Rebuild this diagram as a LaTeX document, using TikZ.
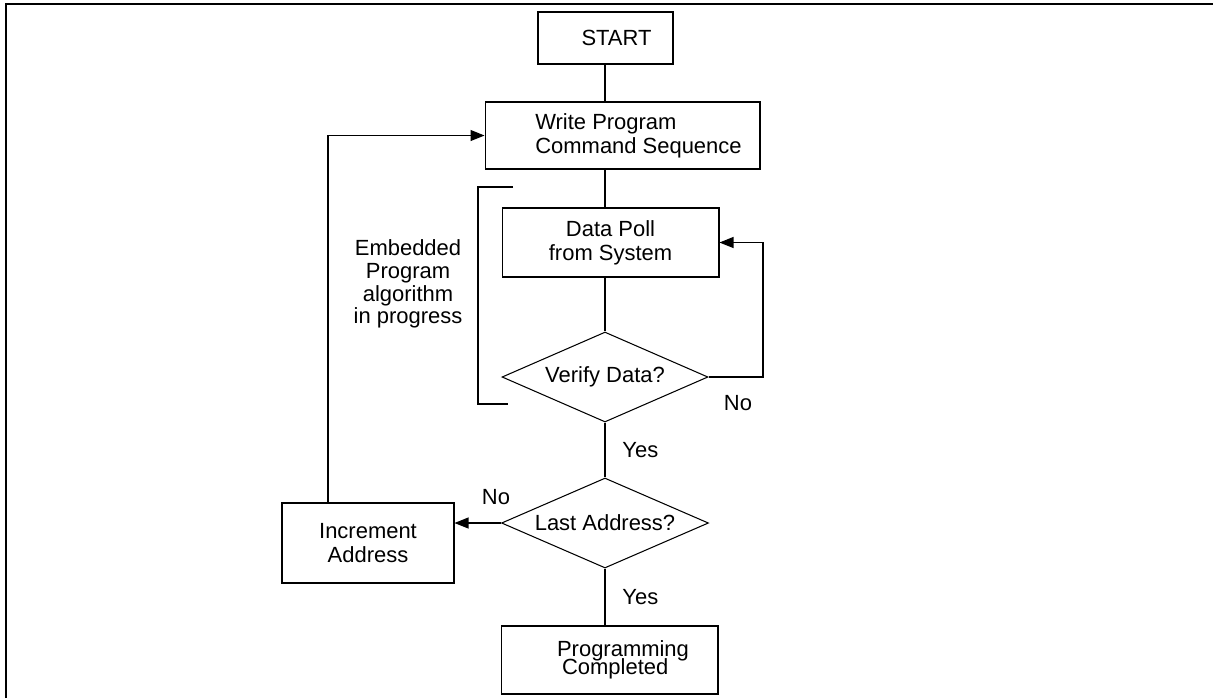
\documentclass[tikz,border=0pt]{standalone}
\usepackage{fontspec}
\setmainfont{Liberation Sans}
\usetikzlibrary{
  shapes.geometric,
  arrows.meta,
  positioning
}
\tikzset{
  >={Triangle[length=0.28cm, width=0.22cm]},
  box/.style={draw, rectangle, line width=0.6pt, inner sep=0pt},
  decision/.style={draw, diamond, aspect=2.3, inner sep=0pt, line width=0.6pt},
  flow/.style={line width=0.6pt}
}

\begin{document}
\begin{tikzpicture}[x=0.02cm, y=-0.02cm, font=\fontsize{12.5}{13.7}\selectfont]
    \useasboundingbox (0,0) rectangle (1213,698);
    \draw[line width=1.6pt] (6,698) -- (6,4) -- (1213,4);

    \node[box, minimum width=2.7cm, minimum height=1.04cm] (start) at (605.5,38) {\hspace*{0.44cm}START};
    \node[box, minimum width=5.5cm, minimum height=1.34cm, align=left] (write) at (622.5,135.5)
      {\hspace*{0.64cm}Write Program\\\hspace*{0.64cm}Command Sequence};
    \node[box, minimum width=4.34cm, minimum height=1.38cm, align=center] (poll) at (610.5,242.5) {Data Poll\\from System};
    \node[decision, minimum width=4.12cm, minimum height=1.8cm] (verify) at (605,377) {Verify Data?};
    \node[decision, minimum width=4.14cm, minimum height=1.8cm] (last) at (605,523) {Last Address?};
    \node[box, minimum width=3.44cm, minimum height=1.6cm, align=center] (incr) at (368,543) {Increment\\Address};
    \node[box, minimum width=4.34cm, minimum height=1.36cm, align=left, text height=0.66cm] (prog) at (609.5,660)
      {\hspace*{0.54cm}Programming\\[-0.13cm]\hspace*{0.64cm}Completed};

    % bracket round the polling loop
    \draw[flow] (513,187) -- (478,187) -- (478,404) -- (508,404);
    \node[align=center, font=\fontsize{12.5}{12.9}\selectfont] (embedded) at (408,284) {Embedded\\Program\\algorithm\\in progress};

    \draw[flow] (start.south -| verify.north) -- (write.north -| verify.north);
    \draw[flow] (write.south -| verify.north) -- (poll.north -| verify.north);
    \draw[flow] (poll.south -| verify.north) -- (verify.north);
    \draw[flow] (verify.south) -- node[right=0.22cm] (yes1) {Yes} (last.north);
    \draw[flow] (last.south) -- node[right=0.22cm] (yes2) {Yes} (prog.north -| last.south);

    \coordinate (noturn) at (763,377);
    \draw[flow, ->] (verify.east) -- (noturn) |- (poll.east);
    \node (no1) at (738,403) {No};

    \draw[flow, ->] (last.west) -- (last.west -| incr.east);
    \node (no2) at (496,497) {No};
    \draw[flow, ->] ([xshift=-0.8cm]incr.north) |- (write.west);
\end{tikzpicture}
\end{document}
